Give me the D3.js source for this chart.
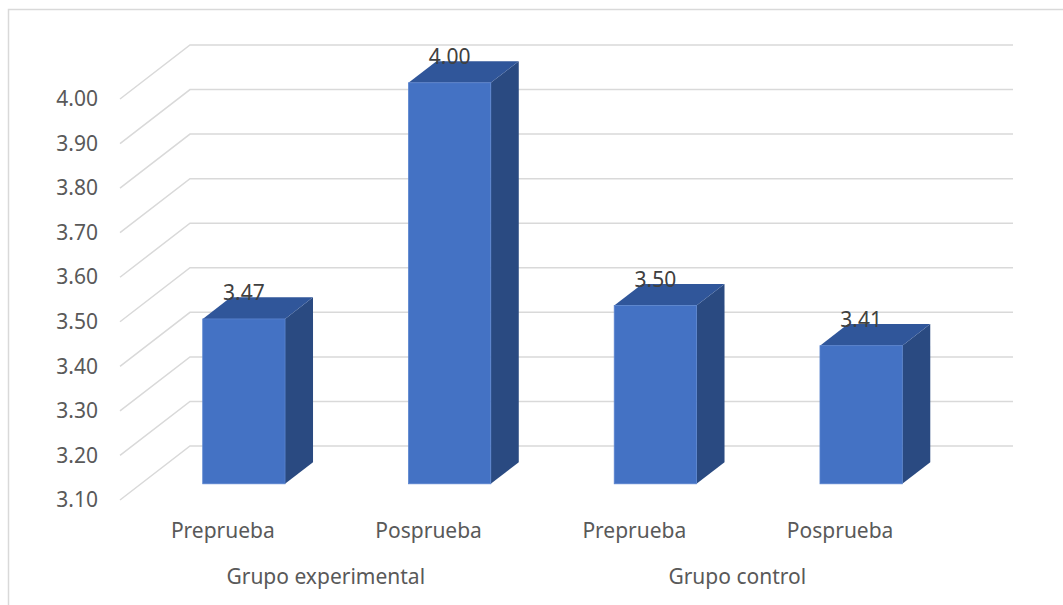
<!DOCTYPE html>
<html>
<head>
<meta charset="utf-8">
<script src="https://cdn.jsdelivr.net/npm/d3@7"></script>
<style>
    body { margin: 0; background: #fff; }
    svg text { font-family: "Noto Sans", "Open Sans", sans-serif; }
</style>
</head>
<body>
<svg id="chart"></svg>
<script>
// data
const categories = ["Preprueba", "Posprueba", "Preprueba", "Posprueba"];
const groups = ["Grupo experimental", "Grupo control"];
const values = [3.47, 4.00, 3.50, 3.41];
const yTicks = [3.1, 3.2, 3.3, 3.4, 3.5, 3.6, 3.7, 3.8, 3.9, 4.0];

(() => {
    const W = 1063, H = 605;
    // front plane of the 3d box and its depth offset
    const front = {"left": 120, "right": 943, "top": 99, "bottom": 500};
    const depth = {"dx": 70, "dy": -54};
    const barFront = 0.3, barBack = 0.7;

    const svg = d3.select("#chart")
        .attr("width", W)
        .attr("height", H);

    // outer chart border
    svg.append("rect")
        .attr("x", 8.5).attr("y", 9.5)
        .attr("width", W + 20).attr("height", H + 20)
        .attr("fill", "none")
        .attr("stroke", "#d9d9d9")
        .attr("stroke-width", 1.5);

    const idx = categories.map((d, i) => i);
    const x = d3.scaleBand()
        .domain(idx)
        .range([front.left, front.right])
        .paddingInner(0.6)
        .paddingOuter(0.3);
    const xCat = d3.scaleBand().domain(idx).range([front.left, front.right]);
    const xGroup = d3.scaleBand().domain(groups).range([front.left, front.right]);
    const y = d3.scaleLinear().domain([3.1, 4.0]).range([front.bottom, front.top]);

    // gridlines: side wall diagonal + back wall
    svg.append("g")
        .selectAll("polyline")
        .data(yTicks)
        .join("polyline")
        .attr("points", d => {
            const yf = y(d), yb = yf + depth.dy;
            return `${front.left},${yf} ${front.left + depth.dx},${yb} ${front.right + depth.dx},${yb}`;
        })
        .attr("fill", "none")
        .attr("stroke", "#d9d9d9")
        .attr("stroke-width", 1.5);

    // y axis labels
    const yAxis = d3.axisLeft(y)
        .tickValues(yTicks)
        .tickFormat(d3.format(".2f"))
        .tickSize(0)
        .tickPadding(0);
    const ga = svg.append("g")
        .attr("transform", `translate(98, 0)`)
        .call(yAxis);
    ga.select(".domain").remove();
    ga.selectAll("text")
        .attr("font-size", 21)
        .attr("font-family", null)
        .attr("fill", "#595959");

    // bars
    const bars = svg.append("g")
        .selectAll("g")
        .data(values)
        .join("g");
    const fx = barFront * depth.dx, fy = barFront * depth.dy;
    const bx = barBack * depth.dx, by = barBack * depth.dy;
    const w = x.bandwidth();
    const y0 = y(3.1);
    // side face
    bars.append("path")
        .attr("d", (d, i) => {
            const xr = x(i) + w;
            const yt = y(d);
            return `M${xr + fx},${yt + fy} L${xr + bx},${yt + by} L${xr + bx},${y0 + by} L${xr + fx},${y0 + fy}Z`;
        })
        .attr("fill", "#2a4a81");
    // top face
    bars.append("path")
        .attr("d", (d, i) => {
            const xl = x(i), xr = x(i) + w;
            const yt = y(d);
            return `M${xl + fx},${yt + fy} L${xl + bx},${yt + by} L${xr + bx},${yt + by} L${xr + fx},${yt + fy}Z`;
        })
        .attr("fill", "#30569a");
    // front face
    bars.append("rect")
        .attr("x", (d, i) => x(i) + fx)
        .attr("y", d => y(d) + fy)
        .attr("width", w)
        .attr("height", d => y0 - y(d))
        .attr("fill", "#4472c4")
        .attr("stroke", "#5a84cf")
        .attr("stroke-width", 0.8);

    // data labels
    svg.append("g")
        .selectAll("text")
        .data(values)
        .join("text")
        .attr("x", (d, i) => x(i) + fx + w / 2)
        .attr("y", d => y(d) + by + 3)
        .attr("text-anchor", "middle")
        .attr("font-size", 21)
        .attr("fill", "#404040")
        .text(d => d3.format(".2f")(d));

    // category labels
    svg.append("g")
        .selectAll("text")
        .data(categories)
        .join("text")
        .attr("x", (d, i) => xCat(i) + xCat.bandwidth() / 2)
        .attr("y", 538)
        .attr("text-anchor", "middle")
        .attr("font-size", 21)
        .attr("fill", "#595959")
        .text(d => d);

    // group labels
    svg.append("g")
        .selectAll("text")
        .data(groups)
        .join("text")
        .attr("x", d => xGroup(d) + xGroup.bandwidth() / 2)
        .attr("y", 584)
        .attr("text-anchor", "middle")
        .attr("font-size", 21)
        .attr("fill", "#595959")
        .text(d => d);
})();
</script>
</body>
</html>
